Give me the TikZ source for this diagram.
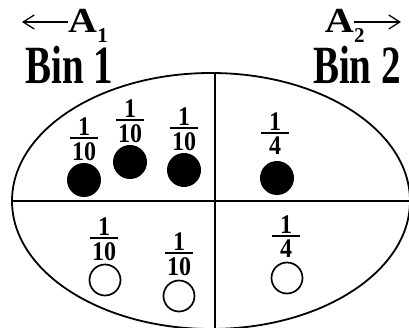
\documentclass[tikz,border=0pt]{standalone}
\usepackage{fontspec}
\setmainfont{Liberation Serif}
\usetikzlibrary{arrows.meta}
\newcommand\fracat[5]{%
  \node[fnum,anchor=base] (#1n) at (#2,#3-2) {\scalebox{1}[1.12]{#4}};
  \node[fnum,anchor=north] (#1d) at (#2,#3+4) {\scalebox{1}[1.12]{#5}};
  \draw[fbar] (#2-14,#3) -- (#2+14,#3);}
\begin{document}
\begin{tikzpicture}[x=1pt,y=-1pt,
  fnum/.style={inner sep=0pt,font=\fontsize{24}{24}\selectfont\bfseries},
  fbar/.style={line width=1.6pt},
  big/.style={inner sep=0pt,font=\fontsize{39}{39}\selectfont\bfseries},
  alab/.style={inner sep=0pt,font=\fontsize{40}{40}\selectfont\bfseries},
  sub/.style={inner sep=0pt,font=\fontsize{21}{21}\selectfont\bfseries},
  arr/.style={line width=1.4pt,-{Straight Barb[length=11pt,width=14pt,line width=1.3pt]}},
  frame/.style={line width=1.8pt},
  full/.style={fill=black,draw=none},
  empty/.style={draw=black,line width=1.7pt,fill=none}]
\useasboundingbox (0,0) rectangle (409,328);
\begin{scope}
  \clip (0,0) rectangle (409,328);
  \draw[frame] (211,201) ellipse [x radius=199, y radius=128];
\end{scope}
\coordinate (vtop) at (215,73);
\coordinate (vbot) at (215,328);
\coordinate (hl) at (12,201);
\coordinate (hr) at (409,201);
\draw[frame] (vtop) -- (vbot);
\draw[frame] (hl) -- (hr);
% labels
\node[big,anchor=base west] (bin1) at (25,84) {\scalebox{1}[1.38]{Bin 1}};
\node[big,anchor=base east] (bin2) at (401,84) {\scalebox{1}[1.38]{Bin 2}};
\node[alab,anchor=base west] (a1) at (68,33) {\scalebox{1}[0.88]{A}};
\node[sub,anchor=base west] (a1s) at (a1.base east) {\raisebox{-10pt}{1}};
\node[alab,anchor=base east] (a2) at (354,33) {\scalebox{1}[0.88]{A}};
\node[sub,anchor=base west] (a2s) at (a2.base east) {\raisebox{-10pt}{2}};
\coordinate (a1end) at (22,22);
\coordinate (a2end) at (401,22);
\draw[arr] (a1end -| a1.west) -- (a1end);
\draw[arr] (a2end -| a2.east) -- (a2end);
% upper fractions and balls
\fracat{u1}{84}{138}{1}{10}
\fracat{u2}{130}{120}{1}{10}
\fracat{u3}{184}{128}{1}{10}
\fracat{u4}{275}{133}{1}{4}
\node[full,circle,minimum size=34pt,inner sep=0pt] (b1) at (84,180) {};
\node[full,circle,minimum size=34pt,inner sep=0pt] (b2) at (130,162) {};
\node[full,circle,minimum size=34pt,inner sep=0pt] (b3) at (184,170) {};
\node[full,circle,minimum size=34pt,inner sep=0pt] (b4) at (277,178) {};
% lower
\fracat{l1}{104}{238}{1}{10}
\fracat{l2}{179}{253}{1}{10}
\fracat{l3}{286}{236}{1}{4}
\node[empty,circle,minimum size=31pt,inner sep=0pt] (w1) at (105,280) {};
\node[empty,circle,minimum size=31pt,inner sep=0pt] (w2) at (179,296) {};
\node[empty,circle,minimum size=31pt,inner sep=0pt] (w3) at (287,278) {};
\end{tikzpicture}
\end{document}
